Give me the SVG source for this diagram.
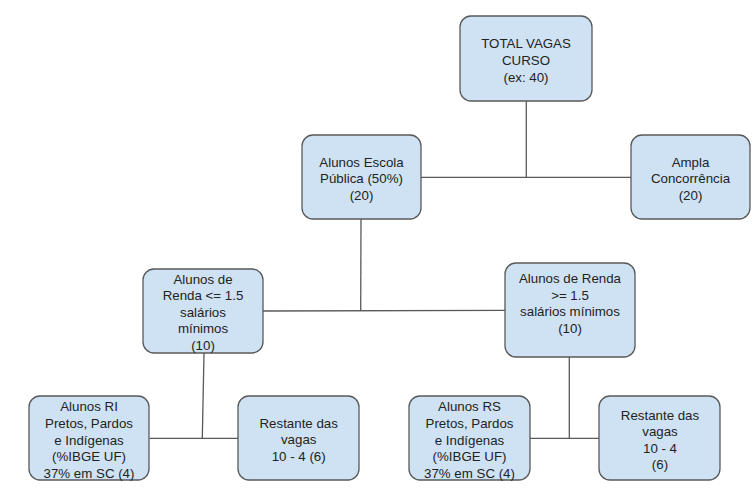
<svg xmlns="http://www.w3.org/2000/svg" width="754" height="504" viewBox="0 0 754 504">
<style>
.box{fill:#cfe2f3;stroke:#595959;stroke-width:1.3}
.t{font-family:"Liberation Sans",Arial,sans-serif;font-size:13.3px;fill:#222;text-anchor:middle}
.c{fill:none;stroke:#595959;stroke-width:1.3}
</style>
<rect width="754" height="504" fill="#ffffff"/>
<g id="connectors">
<line class="c" x1="526.3" y1="101" x2="526.3" y2="177.3"/>
<line class="c" x1="421" y1="177.3" x2="631" y2="177.3"/>
<line class="c" x1="361" y1="219" x2="360.7" y2="311"/>
<line class="c" x1="263" y1="311" x2="505" y2="310.3"/>
<line class="c" x1="204" y1="353" x2="202.3" y2="438.3"/>
<line class="c" x1="149.5" y1="438.3" x2="238.3" y2="438.3"/>
<line class="c" x1="569.3" y1="357" x2="569.3" y2="438.3"/>
<line class="c" x1="530" y1="438.3" x2="599.3" y2="438.3"/>
</g>
<g id="total">
<rect class="box" x="460" y="16" width="132" height="85" rx="11"/>
<text class="t" x="526" y="48">TOTAL VAGAS</text>
<text class="t" x="526" y="65">CURSO</text>
<text class="t" x="526" y="82">(ex: 40)</text>
</g>
<g id="escola">
<rect class="box" x="302" y="135" width="119" height="84" rx="11"/>
<text class="t" x="361.5" y="166.5">Alunos Escola</text>
<text class="t" x="361.5" y="183">Pública (50%)</text>
<text class="t" x="361.5" y="200">(20)</text>
</g>
<g id="ampla">
<rect class="box" x="631" y="135" width="119" height="84" rx="11"/>
<text class="t" x="690.5" y="166.5">Ampla</text>
<text class="t" x="690.5" y="183">Concorrência</text>
<text class="t" x="690.5" y="200">(20)</text>
</g>
<g id="renda-menor">
<rect class="box" x="143" y="269" width="120" height="84" rx="11"/>
<text class="t" x="203" y="283.5">Alunos de</text>
<text class="t" x="203" y="300.1">Renda &lt;= 1.5</text>
<text class="t" x="203" y="316.7">salários</text>
<text class="t" x="203" y="333.3">mínimos</text>
<text class="t" x="203" y="349.9">(10)</text>
</g>
<g id="renda-maior">
<rect class="box" x="505" y="263" width="130" height="94" rx="11"/>
<text class="t" x="570" y="283">Alunos de Renda</text>
<text class="t" x="570" y="299.5">&gt;= 1.5</text>
<text class="t" x="570" y="316">salários mínimos</text>
<text class="t" x="570" y="332.5">(10)</text>
</g>
<g id="ri">
<rect class="box" x="29" y="396" width="120" height="84" rx="11"/>
<text class="t" x="89" y="410.5">Alunos RI</text>
<text class="t" x="89" y="427.5">Pretos, Pardos</text>
<text class="t" x="89" y="444.5">e Indígenas</text>
<text class="t" x="89" y="461">(%IBGE UF)</text>
<text class="t" x="89" y="477.5">37% em SC (4)</text>
</g>
<g id="restante-ri">
<rect class="box" x="238" y="396" width="121" height="84" rx="11"/>
<text class="t" x="298.7" y="427.5">Restante das</text>
<text class="t" x="298.7" y="444">vagas</text>
<text class="t" x="298.7" y="460.5">10 - 4 (6)</text>
</g>
<g id="rs">
<rect class="box" x="409" y="396" width="121" height="84" rx="11"/>
<text class="t" x="469.5" y="410.5">Alunos RS</text>
<text class="t" x="469.5" y="427.5">Pretos, Pardos</text>
<text class="t" x="469.5" y="444.5">e Indígenas</text>
<text class="t" x="469.5" y="461">(%IBGE UF)</text>
<text class="t" x="469.5" y="477.5">37% em SC (4)</text>
</g>
<g id="restante-rs">
<rect class="box" x="599" y="396" width="121" height="84" rx="11"/>
<text class="t" x="660" y="419.7">Restante das</text>
<text class="t" x="660" y="436.3">vagas</text>
<text class="t" x="660" y="453">10 - 4</text>
<text class="t" x="660" y="469">(6)</text>
</g>
</svg>
